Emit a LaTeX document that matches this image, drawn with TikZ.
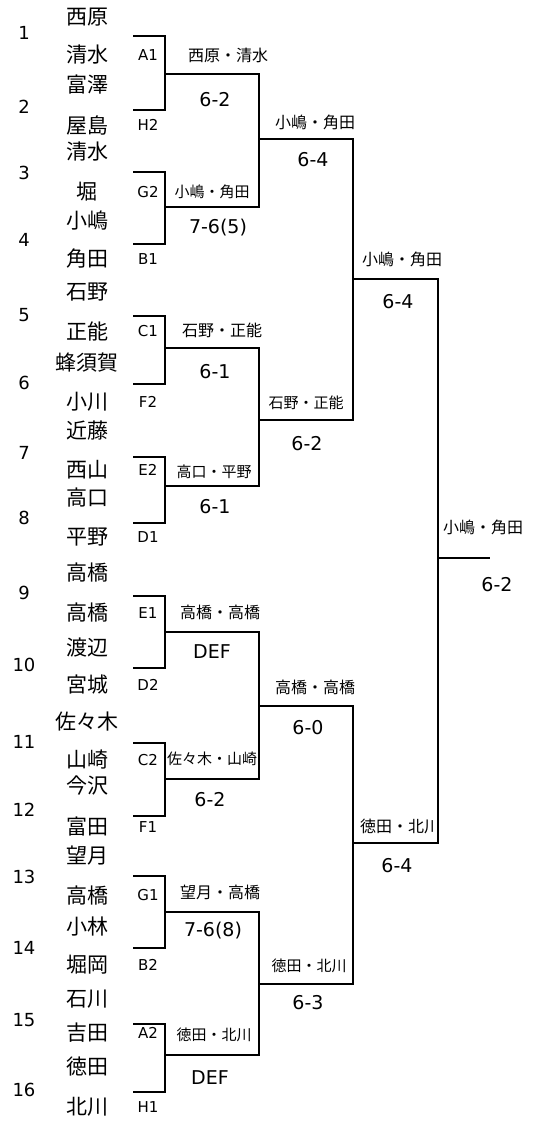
\documentclass[tikz,border=0pt]{standalone}
\usepackage{fontspec}
\setmainfont{DejaVu Sans}
\newfontfamily\jp{Noto Sans CJK JP}
\begin{document}
\begin{tikzpicture}[x=1pt, y=-1pt, line width=2.4pt]
	\tikzset{player/.style={font=\jp\fontsize{21}{21}\selectfont, inner sep=0pt},
		seedno/.style={font=\fontsize{18}{18}\selectfont, inner sep=0pt},
		grp/.style={font=\fontsize{15}{15}\selectfont, inner sep=0pt},
		pairlbl/.style={font=\jp\fontsize{16}{16}\selectfont, inner sep=0pt},
		pairsm/.style={font=\jp\fontsize{15}{15}\selectfont, inner sep=0pt},
		score/.style={font=\fontsize{19}{19}\selectfont, inner sep=0pt}}
	\useasboundingbox (0,0) rectangle (555,1122);
	% seed numbers
	\foreach \n/\y in {1/33,2/107,3/173,4/240,5/315,6/383,7/453,8/518,9/593,10/665,11/742,12/810,13/877,14/948,15/1020,16/1090}
		\node[seedno] (n\n) at (24,\y) {\n};
	% players
	\foreach \i/\y/\s in {a/17/西原,b/55/清水,c/85/富澤,d/125/屋島,e/152/清水,f/192/堀,g/221/小嶋,h/259/角田,
		i/292/石野,j/331/正能,k/363/蜂須賀,l/402/小川,m/431/近藤,n/470/西山,o/498/高口,p/537/平野,
		q/573/高橋,r/613/高橋,s/648/渡辺,t/685/宮城,u/722/佐々木,v/760/山崎,w/786/今沢,x/827/富田,
		y/856/望月,z/895/高橋,A/927/小林,B/965/堀岡,C/999/石川,D/1033/吉田,E/1066/徳田,F/1107/北川}
		\node[player] (p\i) at (87,\y) {\s};
	% group codes
	\foreach \c/\y in {A1/55,H2/125,G2/192,B1/259,C1/331,F2/402,E2/470,D1/537,E1/613,D2/685,C2/760,F1/827,G1/895,B2/965,A2/1033,H1/1107}
		\node[grp] (g\c) at (148,\y) {\c};
	% bracket points
	\foreach \i/\y in {1/36,2/110,3/172,4/244,5/316,6/384,7/457,8/523,9/596,10/668,11/743,12/816,13/876,14/948,15/1024,16/1092}
		\coordinate (t\i) at (133,\y);
	\foreach \i/\y in {1/74,2/207,3/348,4/486,5/632,6/779,7/912,8/1055}
		\coordinate (m\i) at (165,\y);
	\foreach \i/\y in {1/139,2/420,3/706,4/984}
		\coordinate (q\i) at (259,\y);
	\coordinate (s1) at (353,279);
	\coordinate (s2) at (353,843);
	\coordinate (f) at (438,558);
	\coordinate (champ) at (490,558);
	% bracket
	\foreach \i in {1,...,8}{
		\pgfmathtruncatemacro{\u}{2*\i-1}
		\pgfmathtruncatemacro{\v}{2*\i}
		\draw (t\u) -| (m\i) |- (t\v);
	}
	\draw (m1) -| (q1) |- (m2);
	\draw (m3) -| (q2) |- (m4);
	\draw (m5) -| (q3) |- (m6);
	\draw (m7) -| (q4) |- (m8);
	\draw (q1) -| (s1) |- (q2);
	\draw (q3) -| (s2) |- (q4);
	\draw (s1) -| (f) |- (s2);
	\draw (f) -- (champ);
	% winners
	\foreach \k/\x/\y/\s in {1/228/55/西原・清水,3/222/330/石野・正能,5/220/612/高橋・高橋,7/220/892/望月・高橋,
		9/315/122/小嶋・角田,11/315/687/高橋・高橋,13/402/259/小嶋・角田,14/400/826/徳田・北川,15/483/527/小嶋・角田}
		\node[pairlbl] (w\k) at (\x,\y) {\s};
	\foreach \k/\x/\y/\s in {2/212/192/小嶋・角田,4/214/472/高口・平野,6/212/759/佐々木・山崎,8/214/1035/徳田・北川,
		10/306/403/石野・正能,12/309/966/徳田・北川}
		\node[pairsm] (w\k) at (\x,\y) {\s};
	% scores
	\foreach \k/\x/\y/\s in {1/215/100/6-2,2/218/228/7-6(5),3/215/372/6-1,4/215/507/6-1,
		5/212/652/DEF,6/210/800/6-2,7/213/931/7-6(8),8/210/1078/DEF,
		9/313/160/6-4,10/307/444/6-2,11/308/728/6-0,12/308/1003/6-3,
		13/398/302/6-4,14/397/866/6-4,15/497/585/6-2}
		\node[score] (r\k) at (\x,\y) {\s};
\end{tikzpicture}
\end{document}
